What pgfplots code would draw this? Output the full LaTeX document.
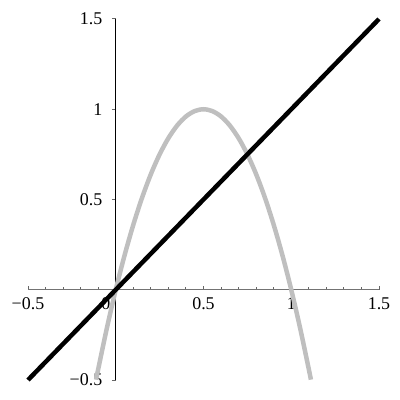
\documentclass[border=0pt]{standalone}
\usepackage{pgfplots}
\pgfplotsset{compat=1.18}
\usepackage{fontspec}
\setmainfont{Liberation Serif}
\begin{document}
\begin{tikzpicture}
\begin{axis}[
  name=a,
  scale only axis,
  width=351bp, height=361bp,
  xmin=-0.5, xmax=1.5, ymin=-0.5, ymax=1.5,
  axis lines=middle,
  clip=false,
  hide obscured x ticks=false,
  xtick={-0.5,0,0.5,1,1.5},
  xticklabels={−0.5,\kern-20bp 0,0.5,1,1.5},
  ytick={-0.5,0.5,1,1.5},
  yticklabels={−0.5,0.5,1,1.5},
  minor tick num=4,
  xtick align=inside,
  ytick align=outside,
  major tick length=4bp,
  minor tick length=3bp,
  x axis line style={black!55, line width=1pt, -},
  y axis line style={black, line width=1pt, -},
  tick style={black!60, line width=1pt},
  tick label style={font=\fontsize{18}{20}\selectfont, black},
  xticklabel style={anchor=north, yshift=-4bp},
  yticklabel style={anchor=east, xshift=-6bp},
  /pgf/number format/assume math mode=true,
]
\addplot[color=black!25, line width=4.5bp, smooth] coordinates {
(-0.112,-0.498) (-0.1,-0.44) (-0.05,-0.21) (0,0) (0.05,0.19) (0.1,0.36) (0.15,0.51)
(0.2,0.64) (0.25,0.75) (0.3,0.84) (0.35,0.91) (0.4,0.96) (0.45,0.99) (0.5,1)
(0.55,0.99) (0.6,0.96) (0.65,0.91) (0.7,0.84) (0.75,0.75) (0.8,0.64) (0.85,0.51)
(0.9,0.36) (0.95,0.19) (1,0) (1.05,-0.21) (1.1,-0.44) (1.112,-0.498)
};
\addplot[color=black, line width=4.5bp] coordinates {(-0.5,-0.5) (1.5,1.5)};
\end{axis}
\pgfresetboundingbox
\path[use as bounding box] ([shift={(-28bp,-20bp)}]a.south west) rectangle ([shift={(21bp,19bp)}]a.north east);
\end{tikzpicture}
\end{document}
